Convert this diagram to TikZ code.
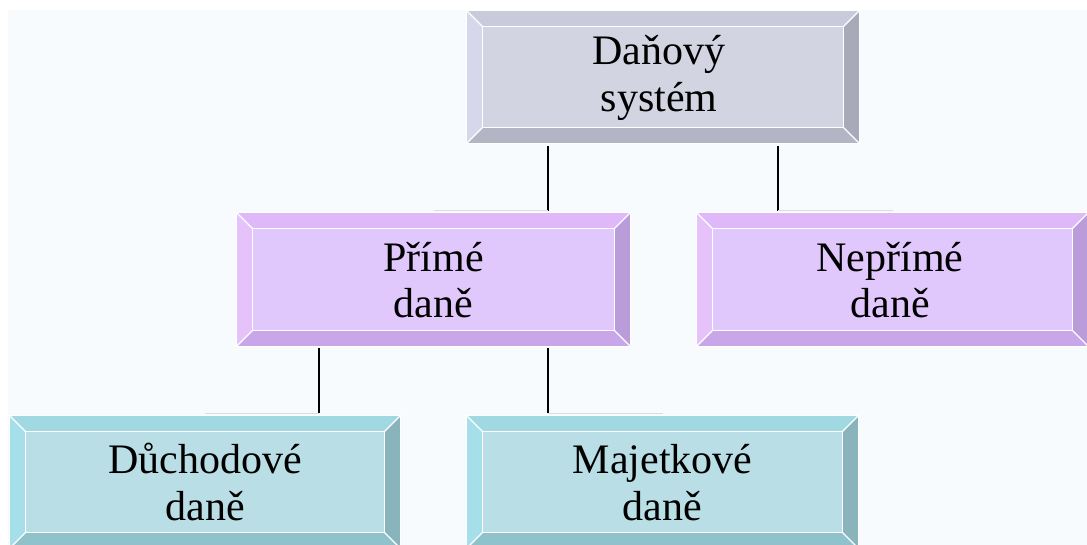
\documentclass[tikz,border=0pt]{standalone}
\usepackage{fontspec}
\setmainfont{Liberation Serif}

% face / top / left / right / bottom bevel colours of the three tiers
\definecolor{pagebg}{HTML}{F7FBFE}
\definecolor{gFace}{HTML}{D3D4E1}
\definecolor{gTop}{HTML}{C9CBDD}
\definecolor{gLeft}{HTML}{D7D7EB}
\definecolor{gRight}{HTML}{A9AAB9}
\definecolor{gBot}{HTML}{B3B4C4}
\definecolor{pFace}{HTML}{E1C8FC}
\definecolor{pTop}{HTML}{DFB8FA}
\definecolor{pLeft}{HTML}{E6C2FB}
\definecolor{pRight}{HTML}{BA9CDA}
\definecolor{pBot}{HTML}{C8A6E8}
\definecolor{tFace}{HTML}{B9DEE5}
\definecolor{tTop}{HTML}{A1D9E3}
\definecolor{tLeft}{HTML}{A5E0EA}
\definecolor{tRight}{HTML}{89B4BC}
\definecolor{tBot}{HTML}{8FC2CA}
\definecolor{faintline}{HTML}{DCDCDC}

\newlength\bw
\setlength\bw{16pt}

% bevelled button drawn around a named empty node
% #1 node, #2 face, #3 top, #4 left, #5 right, #6 bottom
\newcommand\bevelbox[6]{%
  \coordinate (#1-a) at (#1.north west);
  \coordinate (#1-b) at (#1.north east);
  \coordinate (#1-c) at (#1.south east);
  \coordinate (#1-d) at (#1.south west);
  \coordinate (#1-ia) at ([shift={(\bw,-\bw)}]#1.north west);
  \coordinate (#1-ib) at ([shift={(-\bw,-\bw)}]#1.north east);
  \coordinate (#1-ic) at ([shift={(-\bw,\bw)}]#1.south east);
  \coordinate (#1-id) at ([shift={(\bw,\bw)}]#1.south west);
  \fill[#3] (#1-a) -- (#1-b) -- (#1-ib) -- (#1-ia) -- cycle;
  \fill[#6] (#1-d) -- (#1-c) -- (#1-ic) -- (#1-id) -- cycle;
  \fill[#4] (#1-a) -- (#1-ia) -- (#1-id) -- (#1-d) -- cycle;
  \fill[#5] (#1-b) -- (#1-ib) -- (#1-ic) -- (#1-c) -- cycle;
  \fill[#2] (#1-ia) rectangle (#1-ic);
  \draw[edge] (#1-ia) rectangle (#1-ic);
  \draw[edge] (#1-a) -- (#1-ia) (#1-b) -- (#1-ib) (#1-c) -- (#1-ic) (#1-d) -- (#1-id);
  \draw[edge, line width=0.8pt] (#1-a) rectangle (#1-c);
}

\tikzset{
  box/.style={rectangle, inner sep=0pt, draw=none},
  edge/.style={white, line width=1.3pt},
  label/.style={anchor=base, align=center, inner sep=0pt,
    font=\fontsize{42}{47}\selectfont},
  link/.style={black, line width=1.3pt},
  hint/.style={faintline, line width=1pt},
}

\begin{document}
\begin{tikzpicture}[x=1pt, y=-1pt]
\useasboundingbox (0,0) rectangle (1087,545);
\fill[pagebg] (8,10) rectangle (1087,545);

% boxes
\node[box, minimum width=392pt, minimum height=132pt] (sys) at (663,77) {};
\node[box, minimum width=393pt, minimum height=133pt] (prime) at (433.5,279.5) {};
\node[box, minimum width=391pt, minimum height=133pt] (neprime) at (892.5,279.5) {};
\node[box, minimum width=390pt, minimum height=132pt] (duch) at (205,482) {};
\node[box, minimum width=391pt, minimum height=132pt] (majet) at (662.5,482) {};

\bevelbox{sys}{gFace}{gTop}{gLeft}{gRight}{gBot}
\bevelbox{prime}{pFace}{pTop}{pLeft}{pRight}{pBot}
\bevelbox{neprime}{pFace}{pTop}{pLeft}{pRight}{pBot}
\bevelbox{duch}{tFace}{tTop}{tLeft}{tRight}{tBot}
\bevelbox{majet}{tFace}{tTop}{tLeft}{tRight}{tBot}

% labels, placed on the baseline of their last line
\node[label] (sysT) at (659,112) {Daňový\\systém};
\node[label] (primeT) at (433.5,318) {Přímé\\daně};
\node[label] (neprimeT) at (890,318) {Nepřímé\\daně};
\node[label] (duchT) at (205,520) {Důchodové\\daně};
\node[label] (majetT) at (662.5,520) {Majetkové\\daně};

% connectors: drop from the parent, then a faint run to the child's centre
\coordinate (j1) at (548,211);
\coordinate (j2) at (778,211);
\coordinate (j3) at (319,413);
\coordinate (j4) at (548,413);
\draw[link] ([yshift=-3pt]j1 |- sys.south) -- (j1);
\draw[link] ([yshift=-3pt]j2 |- sys.south) -- (j2);
\draw[link] ([yshift=-2pt]j3 |- prime.south) -- (j3);
\draw[link] ([yshift=-2pt]j4 |- prime.south) -- (j4);
\draw[hint] (j1) -- (j1 -| prime.center);
\draw[hint] (j2) -- (j2 -| neprime.center);
\draw[hint] (j3) -- (j3 -| duch.center);
\draw[hint] (j4) -- (j4 -| majet.center);
\end{tikzpicture}
\end{document}
